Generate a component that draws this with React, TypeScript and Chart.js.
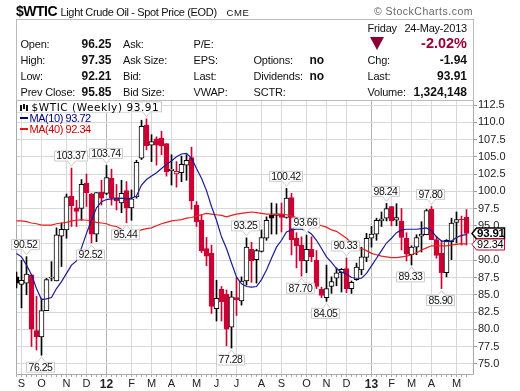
import React, { useEffect, useRef } from "react";
import Chart from "chart.js/auto";

const opens = [87.6,86.5,86.7,87.9,79.8,78.9,82.7,87.4,87,93.5,94.4,99.3,97.6,97.5,101.2,99.6,93.8,99.9,99.7,101.9,99.1,98.3,100.1,97.6,99.2,104.8,109.6,106.7,107.6,107.7,106.9,103,102.5,102.7,103.8,104.9,98,95.8,91.7,91,83,85.8,85.1,80.3,84.6,84.1,87,91.6,90.1,91.3,93.2,96.5,96.5,96.7,96.2,99.1,93.2,92.2,89.9,91.6,90,85.8,84.6,86.2,87.4,88.2,88.8,85.9,87.2,88.6,90.4,93.2,93.8,95.7,96.1,97.8,95.8,95.7,93.2,90.8,91.9,93.5,93.7,97.4,93,91,88.2,92.7,95.5,95.95,96.25];
const highs = [88.3,90,90.52,87.9,84.8,84.5,87.4,89.8,94.7,95.4,99.6,103.37,98.7,101.7,102.5,99.7,99.8,101.6,103.74,103.2,101,101.6,101.4,100.2,104.5,110.3,110.5,108.2,107.9,108.7,106.9,105.3,104.3,105.1,105.3,106.4,98.5,96.6,93.3,92.2,87.1,86.2,85.7,85.5,87.5,87.6,93.25,92.6,91.6,94.4,96.3,98.3,98.2,98.3,100.42,99.7,94,93.4,93.66,93.4,91.4,86.1,89.3,87.6,88.9,88.8,90.33,87,89.6,91.9,93.9,94.9,96.1,97,98.24,97.8,98.2,97.5,94,92.1,93.7,95.6,97.4,97.8,93.5,92.9,93,96.1,97,96.4,97.35];
const lows = [86,83.1,85,77.5,77,76.25,82.7,87,87,89.1,93.2,94.9,94.9,95.8,97.8,92.52,92.7,98,99.5,98,97.3,96.9,95.44,95.8,99,104.6,106,104.3,103.8,105.3,102.2,100.9,100.6,101.4,101.6,97.4,94.9,91.1,89.2,82.3,81.2,81.2,77.6,77.28,82,83.5,86.4,86.8,86.7,91.2,92.9,93.8,93.8,94.1,96.1,90.8,88.9,87.7,88.2,89.8,85.9,84.6,84.05,85.2,86.3,85.4,85.3,85.2,87.1,87.9,89.8,91.9,92.9,94.9,95.7,95,95,91.5,89.9,89.33,90.8,91.2,93.7,93,90.3,85.9,87.6,90.1,92.5,92.2,92.21];
const closes = [86.7,87.1,88,80,78.9,82.7,87.2,87.55,93.7,94.5,99.2,97.9,97.1,101,99.8,93.8,99.8,99,102,99,98.6,99.7,97.6,98.9,104.2,109.4,106.6,107.2,106.7,106.6,102.8,103.2,102.9,103.9,104.5,98.6,95.6,91.4,90.6,83.3,84.5,84,80,84.7,84.3,87,91.9,89.9,91.4,93.3,95.8,96.1,96.7,96.2,99,93,92.1,89.9,91.6,90.5,86.2,84.9,85.9,86.9,88.2,88.7,85.9,86.8,89,90.5,93.2,93.8,95.8,96,97.5,95.7,96.2,93.3,90.9,91.9,93.3,93.8,97.2,93,90.7,88.2,92.9,95.4,95.9,95.85,93.91];
const ma10 = [91,90.5,89.3,87.9,85.9,84.3,84.4,84.6,85.9,86.9,88.1,89.3,89.9,91.8,93.9,95.8,97.6,98.5,98.8,98.9,98.9,99,98.9,99,99.3,100.9,101.7,102.2,102.7,103.3,103.9,104.4,105,105.4,105.5,104.8,103.3,101.9,100.1,97.8,95.8,93.4,91.7,89.6,87.6,86.6,86.2,86.1,86.2,87.2,88.6,90.3,91.9,92.9,94.1,94.4,94.5,94.5,94.3,93.8,92.9,91.7,90.5,89.7,88.8,88.3,88,87.5,87.4,87.4,88.1,89.2,90.3,91.4,92.5,93.2,94,94.4,94.5,94.5,94.5,94.6,94.7,94.3,93.4,92.8,92.7,92.8,93.3,93.6,93.72];
const ma40 = [95.7,95.7,95.6,95.4,95.3,95.1,95.1,95.1,95.3,95.4,95.5,95.7,95.8,95.9,95.8,95.7,95.5,95.4,95.3,95,94.9,94.5,94.2,94.1,94.2,94.4,94.6,94.7,95,95.3,95.5,95.7,95.8,95.9,96.1,96.2,96.4,96.6,96.8,96.7,96.6,96.5,96.3,96.5,96.7,96.8,96.9,97,96.9,96.8,96.7,96.7,96.7,96.7,96.6,96.4,96.2,95.9,95.7,95.5,95.3,95,94.8,94.4,94.2,93.7,93.2,92.5,92,91.7,91.4,91,90.8,90.6,90.5,90.4,90.4,90.5,90.6,90.8,91.1,91.5,91.8,92.1,92.1,92.1,92.1,92.2,92.3,92.4,92.34];
const monthIndexes = [1,5,10,14,18,23,27,31,36,40,44,49,53,58,62,66,71,75,79,83,88];
const monthLabels = ["S","O","N","D","12","F","M","A","M","J","J","A","S","O","N","D","13","F","M","A","M"];
const calloutAbove = [[2,"90.52"],[11,"103.37"],[18,"103.74"],[26,""],[46,"93.25"],[54,"100.42"],[58,"93.66"],[66,"90.33"],[74,"98.24"],[83,"97.80"]] as [number,string][];
const calloutBelow = [[5,"76.25"],[15,"92.52"],[22,"95.44"],[43,"77.28"],[57,"87.70"],[62,"84.05"],[79,"89.33"],[85,"85.90"]] as [number,string][];
const priceTags = [[93.91,"93.91"],[92.34,"92.34"]] as [number,string][];
const statRows = [
  ["Open:","96.25","Ask:","P/E:","",""],
  ["High:","97.35","Ask Size:","EPS:","Options:","no"],
  ["Low:","92.21","Bid:","Last:","Dividends:","no"],
  ["Prev Close:","95.85","Bid Size:","VWAP:","SCTR:",""],
];
const rightRows = [["Chg:","-1.94"],["Last:","93.91"],["Volume:","1,324,148"]];

const FONT = '"Liberation Sans", Arial, sans-serif';
const RED = "#cc0033";

const lineColor = (i: number) => (i === 0 || closes[i] >= closes[i - 1] ? "#000000" : RED);
const isFilled = (i: number) => closes[i] < opens[i];

const overlayPlugin = {
  id: "overlay",
  beforeDatasetsDraw(chart: any) {
    const { ctx, chartArea: a, scales } = chart;
    ctx.save();
    ctx.strokeStyle = "#aaaaaa";
    ctx.lineWidth = 1;
    ctx.beginPath();
    ctx.moveTo(a.left + 0.5, a.top);
    ctx.lineTo(a.left + 0.5, a.bottom + 0.5);
    ctx.lineTo(a.right + 0.5, a.bottom + 0.5);
    ctx.lineTo(a.right + 0.5, a.top);
    closes.forEach((_, i) => {
      const x = Math.floor(scales.x.getPixelForValue(i)) + 0.5;
      ctx.moveTo(x, a.bottom + 1);
      ctx.lineTo(x, a.bottom + 3);
    });
    ctx.stroke();
    ctx.restore();
  },
  afterDraw(chart: any) {
    const { ctx, scales } = chart;
    ctx.save();
    ctx.font = `10.5px ${FONT}`;
    (ctx as any).letterSpacing = "-0.45px";
    ctx.textAlign = "center";
    ctx.textBaseline = "middle";
    const callout = (idx: number, text: string, above: boolean) => {
      const x = scales.x.getPixelForValue(idx);
      const y = scales.y.getPixelForValue(above ? highs[idx] : lows[idx]);
      const tip = above ? y - 2 : y + 2;
      const near = above ? tip - 5 : tip + 5;
      const far = above ? near - 10 : near + 10;
      const w = text ? ctx.measureText(text).width + 4 : 30;
      const l = Math.round(x - w / 2) + 0.5 - 1;
      const r = l + Math.round(w);
      ctx.beginPath();
      ctx.moveTo(l, far);
      ctx.lineTo(r, far);
      ctx.lineTo(r, near);
      ctx.lineTo(x + 4, near);
      ctx.lineTo(x, tip);
      ctx.lineTo(x - 4, near);
      ctx.lineTo(l, near);
      ctx.closePath();
      ctx.fillStyle = "#ffffff";
      ctx.fill();
      ctx.strokeStyle = "#cccccc";
      ctx.lineWidth = 1;
      ctx.stroke();
      ctx.fillStyle = "#111111";
      ctx.fillText(text, (l + r) / 2, (near + far) / 2 + 0.5);
    };
    calloutAbove.forEach(([i, t]) => callout(i, t, true));
    calloutBelow.forEach(([i, t]) => callout(i, t, false));
    ctx.textAlign = "left";
    (ctx as any).letterSpacing = "-0.2px";
    priceTags.forEach(([v, t], k) => {
      const y = Math.round(scales.y.getPixelForValue(v)) + 0.5;
      const c = k === 0 ? "#000000" : RED;
      ctx.beginPath();
      ctx.moveTo(472, y);
      ctx.lineTo(476.5, y - 5.5);
      ctx.lineTo(504.5, y - 5.5);
      ctx.lineTo(504.5, y + 5.5);
      ctx.lineTo(476.5, y + 5.5);
      ctx.closePath();
      ctx.fillStyle = "#ffffff";
      ctx.fill();
      ctx.strokeStyle = c;
      ctx.lineWidth = k === 0 ? 1.5 : 1;
      ctx.stroke();
      ctx.font = k === 0 ? `bold 11.5px ${FONT}` : `11px ${FONT}`;
      ctx.fillStyle = "#000000";
      ctx.fillText(t, 477, y + 0.5);
    });
    ctx.restore();
  },
};

const abs = (left: number, baseline: number, size = 11, extra: React.CSSProperties = {}): React.CSSProperties => ({
  position: "absolute",
  left,
  top: baseline - Math.round(size * 0.95),
  fontFamily: FONT,
  fontSize: size,
  lineHeight: `${Math.round(size * 1.2)}px`,
  whiteSpace: "nowrap",
  color: "#111",
  letterSpacing: size < 11.5 ? -0.2 : 0,
  ...extra,
});
const absR = (baseline: number, size = 11, extra: React.CSSProperties = {}): React.CSSProperties => {
  const s = abs(0, baseline, size, extra);
  delete (s as any).left;
  return { right: 53, ...s };
};

export default function App() {
  const ref = useRef<HTMLCanvasElement>(null);
  useEffect(() => {
    const xs = closes.map((_, i) => i);
    const chart = new Chart(ref.current as HTMLCanvasElement, {
      type: "bar",
      data: {
        datasets: [
          {
            type: "line",
            data: xs.map((i) => ({ x: i, y: ma10[i] })),
            borderColor: "#1c1c96",
            borderWidth: 1.2,
            pointRadius: 0,
            order: 0,
          },
          {
            type: "line",
            data: xs.map((i) => ({ x: i, y: ma40[i] })),
            borderColor: "#ee1c1c",
            borderWidth: 1.2,
            pointRadius: 0,
            order: 0,
          },
          {
            type: "bar",
            grouped: false,
            data: xs.map((i) => ({ x: i, y: [opens[i], closes[i]] })),
            barThickness: 5,
            maxBarThickness: 5,
            backgroundColor: xs.map((i) => (isFilled(i) ? lineColor(i) : "#ffffff")),
            borderColor: xs.map((i) => lineColor(i)),
            borderWidth: 1,
            borderSkipped: false,
            order: 1,
          },
          {
            type: "bar",
            grouped: false,
            data: xs.map((i) => ({ x: i, y: [lows[i], highs[i]] })),
            barThickness: 1,
            maxBarThickness: 1,
            backgroundColor: xs.map((i) => lineColor(i)),
            borderWidth: 0,
            order: 2,
          },
        ] as any,
      },
      options: {
        animation: false,
        responsive: false,
        layout: { autoPadding: false, padding: { left: 16, top: 100, right: 0, bottom: 0 } },
        plugins: { legend: { display: false }, tooltip: { enabled: false } },
        scales: {
          x: {
            type: "linear",
            offset: false,
            min: -0.1,
            max: 91.3,
            afterFit: (s: any) => { s.height = 17; },
            afterBuildTicks: (s: any) => { s.ticks = monthIndexes.map((value) => ({ value })); },
            grid: {
              offset: false,
              color: (c: any) => {
                const v = c.tick?.value;
                return v === 18 || v === 71 ? "#b4b4b4" : "#d8d8d8";
              },
              drawTicks: false,
            },
            border: { display: false },
            ticks: {
              autoSkip: false,
              maxRotation: 0,
              padding: 3,
              color: "#222",
              callback: (v: any) => monthLabels[monthIndexes.indexOf(v)] ?? "",
              font: (c: any) => {
                const v = c.tick?.value;
                return v === 18 || v === 71
                  ? { family: FONT, size: 12, weight: "bold" }
                  : { family: FONT, size: 11 };
              },
            },
          },
          y: {
            type: "linear",
            position: "right",
            min: 73.52,
            max: 113.23,
            afterFit: (s: any) => { s.width = 47; },
            grid: { color: "#d8d8d8", tickLength: 4, tickColor: "#999" },
            border: { display: false },
            ticks: {
              stepSize: 2.5,
              includeBounds: false,
              padding: 1,
              color: "#222",
              font: { family: FONT, size: 11 },
              callback: (v: any) => Number(v).toFixed(1),
            },
          },
        },
      },
      plugins: [overlayPlugin],
    } as any);
    return () => chart.destroy();
  }, []);

  return (
    <div style={{ position: "absolute", left: 0, top: 0, width: 520, height: 391, overflow: "hidden", background: "#fff" }}>
      <canvas ref={ref} width={520} height={391} style={{ display: "block" }} />
      <span style={abs(16, 16, 14, { fontWeight: "bold", letterSpacing: -0.5, color: "#000" })}>$WTIC</span>
      <span style={abs(60.5, 15.5, 11, { letterSpacing: -0.35 })}>Light Crude Oil - Spot Price (EOD)</span>
      <span style={abs(226.5, 15.5, 9.5, { letterSpacing: 0.6 })}>CME</span>
      <span style={absR(15, 10.5, { right: 47, color: "#666", letterSpacing: 0.5 })}>© StockCharts.com</span>
      <div style={{ position: "absolute", left: 16, top: 19, width: 456, height: 80, border: "1px solid #bbb", boxSizing: "content-box" }} />
      {statRows.map((r, k) => {
        const b = 48 + k * 16;
        return (
          <React.Fragment key={k}>
            <span style={abs(20.5, b)}>{r[0]}</span>
            <span style={abs(81.5, b, 12, { fontWeight: "bold" })}>{r[1]}</span>
            <span style={abs(123, b)}>{r[2]}</span>
            <span style={abs(193.5, b)}>{r[3]}</span>
            <span style={abs(253.5, b)}>{r[4]}</span>
            <span style={abs(309.5, b, 12, { fontWeight: "bold" })}>{r[5]}</span>
          </React.Fragment>
        );
      })}
      <span style={abs(367.5, 32)}>Friday</span>
      <span style={absR(32)}>24-May-2013</span>
      <div style={{ position: "absolute", left: 370, top: 37, width: 0, height: 0, borderLeft: "7px solid transparent", borderRight: "7px solid transparent", borderTop: "13px solid #8b0033" }} />
      <span style={absR(48.5, 14.5, { fontWeight: "bold", color: "#99003a" })}>-2.02%</span>
      {rightRows.map((r, k) => {
        const b = 64 + k * 16;
        return (
          <React.Fragment key={k}>
            <span style={abs(367.5, b)}>{r[0]}</span>
            <span style={absR(b, 12, { fontWeight: "bold" })}>{r[1]}</span>
          </React.Fragment>
        );
      })}
      <div style={{ position: "absolute", left: 17, top: 101, width: 113, height: 11, background: "#fff", borderBottom: "1px solid #ddd" }} />
      <div style={{ position: "absolute", left: 20, top: 105, width: 2, height: 6, background: "#111" }} />
      <div style={{ position: "absolute", left: 23, top: 104, width: 2, height: 5, background: "#111" }} />
      <div style={{ position: "absolute", left: 26, top: 105, width: 2, height: 6, background: "#111" }} />
      <span style={abs(31.5, 111, 10.5, { fontFamily: '"DejaVu Sans", sans-serif', letterSpacing: 0.55, color: "#000" })}>$WTIC (Weekly) 93.91</span>
      <div style={{ position: "absolute", left: 20, top: 117, width: 8, height: 2, background: "#000080" }} />
      <span style={abs(29.5, 122, 11, { color: "#000080", letterSpacing: -0.45 })}>MA(10) 93.72</span>
      <div style={{ position: "absolute", left: 20, top: 128, width: 8, height: 2, background: "#ee1111" }} />
      <span style={abs(29.5, 133, 11, { color: "#cc0000", letterSpacing: -0.45 })}>MA(40) 92.34</span>
    </div>
  );
}
